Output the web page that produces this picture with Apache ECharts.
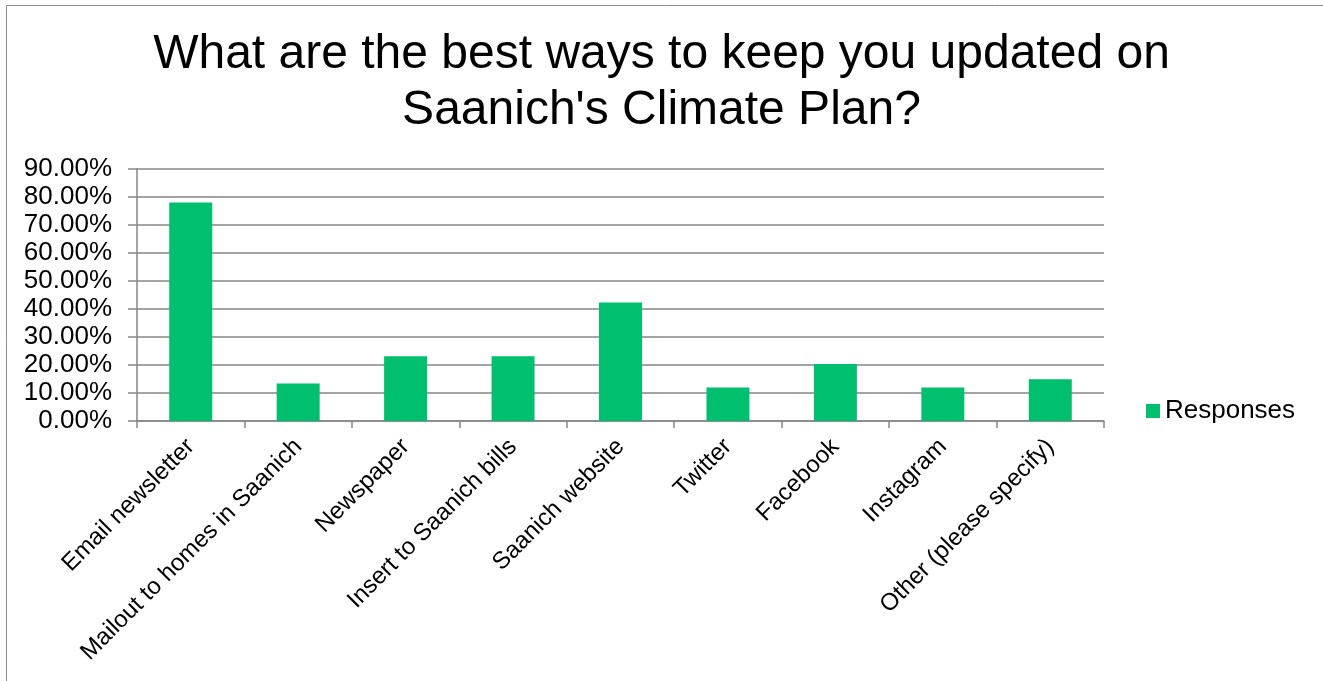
<!DOCTYPE html>
<html>
<head>
<meta charset="utf-8">
<script src="https://cdn.jsdelivr.net/npm/echarts@6/dist/echarts.min.js"></script>
<style>
html,body{margin:0;padding:0;background:#fff;}
#main{width:1323px;height:681px;}
</style>
</head>
<body>
<div id="main"></div>
<script>
const categories = ["Email newsletter","Mailout to homes in Saanich","Newspaper","Insert to Saanich bills","Saanich website","Twitter","Facebook","Instagram","Other (please specify)"];
const responses = [0.780, 0.134, 0.231, 0.231, 0.423, 0.120, 0.204, 0.120, 0.149];
const seriesName = "Responses";
const titleText = "What are the best ways to keep you updated on\nSaanich's Climate Plan?";

const FONT = "'Liberation Sans', Arial, sans-serif";
const chart = echarts.init(document.getElementById('main'), null, {renderer:'canvas'});
chart.setOption({
  animation: false,
  backgroundColor: '#fff',
  textStyle: {fontFamily: FONT},
  graphic: [{
    type: 'rect', silent: true, z: -1,
    shape: {x: 6.5, y: 5.5, width: 1400, height: 800},
    style: {fill: 'none', stroke: '#8c8c8c', lineWidth: 1}
  }],
  title: {
    text: titleText,
    left: 'center',
    top: 27,
    padding: [0, 0, 0, 10],
    textStyle: {fontFamily: FONT, fontSize: 48, fontWeight: 'normal', color: '#000', lineHeight: 56}
  },
  legend: {
    data: [seriesName],
    left: 1146,
    top: 398,
    padding: 0,
    icon: 'rect',
    itemWidth: 14,
    itemHeight: 14,
    itemGap: 0,
    textStyle: {fontFamily: FONT, fontSize: 26, color: '#000'}
  },
  grid: {left: 137, right: 219, top: 169, bottom: 260, containLabel: false},
  xAxis: {
    type: 'category',
    data: categories,
    boundaryGap: true,
    axisLine: {lineStyle: {color: '#868686', width: 1.5}},
    axisTick: {show: true, alignWithLabel: false, length: 7, lineStyle: {color: '#868686', width: 1.5}},
    axisLabel: {
      interval: 0, rotate: 45, margin: 22,
      fontFamily: FONT, fontSize: 24, color: '#000',
      align: 'right', verticalAlign: 'middle'
    },
    splitLine: {show: false}
  },
  yAxis: {
    type: 'value',
    min: 0, max: 0.9, interval: 0.1,
    axisLine: {show: true, lineStyle: {color: '#868686', width: 1.5}},
    axisTick: {show: true, inside: false, length: 9, lineStyle: {color: '#868686', width: 1.5}},
    splitLine: {show: true, lineStyle: {color: '#868686', width: 1.5}},
    axisLabel: {
      margin: 25, fontFamily: FONT, fontSize: 26, color: '#000',
      formatter: v => (v * 100).toFixed(2) + '%'
    }
  },
  series: [{
    name: seriesName,
    type: 'bar',
    data: responses,
    barCategoryGap: '60%',
    itemStyle: {color: '#00BF6F'}
  }]
});
</script>
</body>
</html>
